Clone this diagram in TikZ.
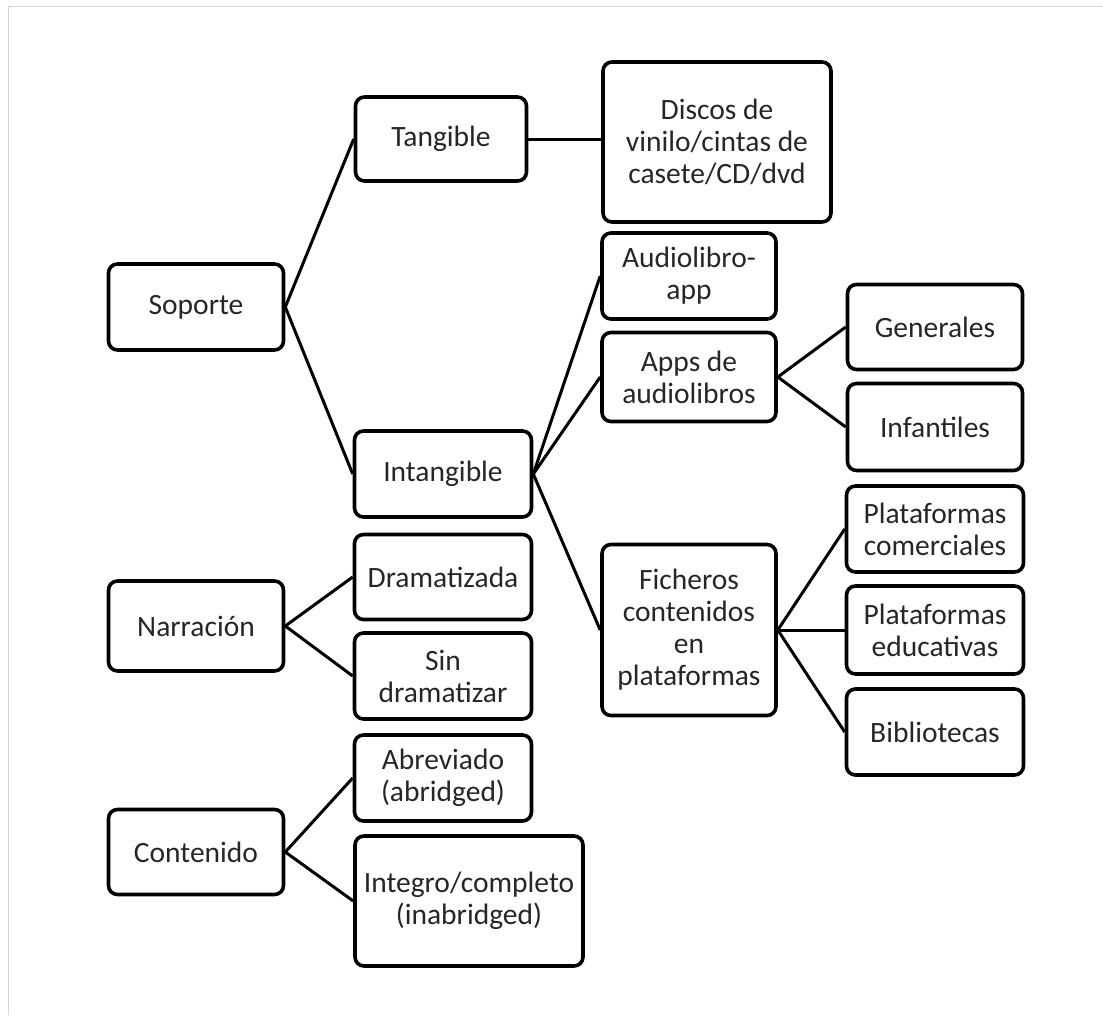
\documentclass[tikz,border=0pt]{standalone}
\usepackage{fontspec}
\setmainfont{Carlito}
\definecolor{txt}{HTML}{262626}
\definecolor{framec}{HTML}{D4D4D4}
\begin{document}
\begin{tikzpicture}[x=1pt,y=-1pt,
  box/.style={draw=black, line width=3.6pt, rounded corners=9pt, align=center,
    inner sep=2pt, text=txt, font=\fontsize{29.5}{32}\selectfont},
  link/.style={line width=3pt, black}]
\useasboundingbox (0,0) rectangle (1103,1015);
\draw[framec, line width=1.5pt] (8.5,1015) -- (8.5,6.5) -- (1103,6.5);

% column 1
\node[box, minimum width=175pt, minimum height=86pt] (soporte) at (196,307) {Soporte};
\node[box, minimum width=175pt, minimum height=90pt] (narracion) at (196,626) {Narración};
\node[box, minimum width=175pt, minimum height=85pt] (contenido) at (196,852) {Contenido};

% column 2
\node[box, minimum width=171pt, minimum height=84pt] (tangible) at (441,139) {Tangible};
\node[box, minimum width=177pt, minimum height=86pt] (intangible) at (443,474) {Intangible};
\node[box, minimum width=177pt, minimum height=85pt] (dramatizada) at (443,577) {Dramatizada};
\node[box, minimum width=177pt, minimum height=86pt] (sindram) at (443,676) {Sin\\dramatizar};
\node[box, minimum width=177pt, minimum height=86pt] (abreviado) at (443,778) {Abreviado\\(abridged)};
\node[box, minimum width=228pt, minimum height=130pt] (integro) at (469,901) {Integro/completo\\(inabridged)};

% column 3
\node[box, minimum width=228pt, minimum height=160pt] (discos) at (717,142) {Discos de\\vinilo/cintas de\\casete/CD/dvd};
\node[box, minimum width=174pt, minimum height=86pt] (audioapp) at (689,276) {Audiolibro-\\app};
\node[box, minimum width=174pt, minimum height=89pt] (apps) at (689,377) {Apps de\\audiolibros};
\node[box, minimum width=174pt, minimum height=171pt] (ficheros) at (689,630) {Ficheros\\contenidos\\en\\plataformas};

% column 4
\node[box, minimum width=175pt, minimum height=85pt] (generales) at (935,327) {Generales};
\node[box, minimum width=175pt, minimum height=87pt] (infantiles) at (935,427) {Infantiles};
\node[box, minimum width=177pt, minimum height=86pt] (platcom) at (935,529) {Plataformas\\comerciales};
\node[box, minimum width=177pt, minimum height=88pt] (platedu) at (935,630) {Plataformas\\educativas};
\node[box, minimum width=177pt, minimum height=86pt] (biblio) at (935,732) {Bibliotecas};

% connectors
\draw[link] (soporte.east) -- (tangible.west);
\draw[link] (soporte.east) -- (intangible.west);
\draw[link] (tangible.east) -- (tangible.east -| discos.west);
\draw[link] (intangible.east) -- (audioapp.west);
\draw[link] (intangible.east) -- (apps.west);
\draw[link] (intangible.east) -- (ficheros.west);
\draw[link] (apps.east) -- (generales.west);
\draw[link] (apps.east) -- (infantiles.west);
\draw[link] (ficheros.east) -- (platcom.west);
\draw[link] (ficheros.east) -- (platedu.west);
\draw[link] (ficheros.east) -- (biblio.west);
\draw[link] (narracion.east) -- (dramatizada.west);
\draw[link] (narracion.east) -- (sindram.west);
\draw[link] (contenido.east) -- (abreviado.west);
\draw[link] (contenido.east) -- (integro.west);
\end{tikzpicture}
\end{document}
